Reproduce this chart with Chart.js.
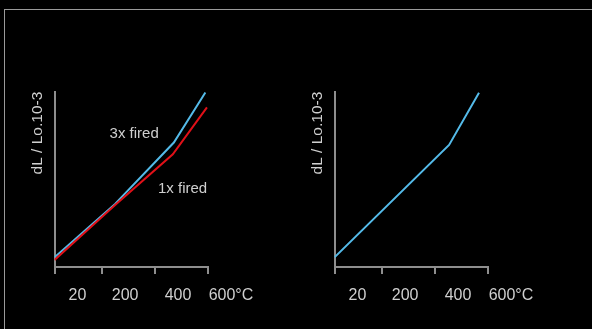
<!DOCTYPE html>
<html>
<head>
<meta charset="utf-8">
<script src="https://cdn.jsdelivr.net/npm/chart.js@4/dist/chart.umd.min.js"></script>
<style>
  html, body { margin: 0; padding: 0; background: #000; overflow: hidden; }
  body { width: 592px; height: 329px; position: relative; }
  .frame { position: absolute; left: 4px; top: 9px; width: 650px; height: 400px; border: 1px solid #9a9a9a; }
  canvas { position: absolute; top: 0; }
  #left { left: 0; }
  #right { left: 280px; }
</style>
</head>
<body>
<div class="frame"></div>
<canvas id="left" width="280" height="329"></canvas>
<canvas id="right" width="280" height="329"></canvas>
<script>
"use strict"

// temperature ticks (°C) shown under both charts
const xTicks = [20, 200, 400, 600];
const yTitle = 'dL / Lo.10-3';

// left chart: expansion after 3 firings and after 1 firing
const leftTemps3x = [20, 249, 471, 590];
const leftValues3x = [0.55, 3.6, 7.1, 9.95];
const leftTemps1x = [20, 249, 467, 596];
const leftValues1x = [0.4, 3.54, 6.43, 9.11];

// right chart: single curve
const rightTemps = [20, 453, 566];
const rightValues = [0.55, 6.96, 9.94];

// curve labels on the left chart, in data units
const noteTexts = ['3x fired', '1x fired'];
const noteTemps = [321, 504];
const noteValues = [7.57, 4.43];

const GREY = '#8e8e8e';
const TEXT = '#cfcfcf';
const BLUE = 'rgb(84, 186, 232)';
const RED = 'rgb(224, 16, 24)';
const FONT = 'Liberation Sans';

function toPoints(xs, ys) {
    return xs.map((x, i) => ({ x: x, y: ys[i] }));
}

// draws the text notes next to the curves
const notesPlugin = {
    id: 'notes',
    afterDatasetsDraw(chart, args, opts) {
        if (!opts.texts) return;
        const ctx = chart.ctx;
        ctx.save();
        ctx.fillStyle = TEXT;
        ctx.font = '15px "' + FONT + '"';
        ctx.textAlign = 'center';
        ctx.textBaseline = 'middle';
        opts.texts.forEach((t, i) => {
            ctx.fillText(t, chart.scales.x.getPixelForValue(opts.xs[i]), chart.scales.y.getPixelForValue(opts.ys[i]));
        });
        ctx.restore();
    }
};

function makeConfig(datasets, notes) {
    return {
        type: 'line',
        data: { datasets: datasets },
        plugins: [notesPlugin],
        options: {
            responsive: false,
            animation: false,
            devicePixelRatio: 1,
            layout: { padding: { top: 91.7, right: 72, bottom: 22, left: 0 } },
            plugins: {
                legend: { display: false },
                tooltip: { enabled: false },
                notes: notes
            },
            scales: {
                x: {
                    type: 'linear',
                    min: 20,
                    max: 600,
                    afterBuildTicks: (scale) => { scale.ticks = xTicks.map(v => ({ value: v })); },
                    afterFit: (scale) => { scale.height = 40; },
                    grid: { display: true, drawOnChartArea: false, drawTicks: true, tickLength: 7, color: GREY, lineWidth: 2 },
                    border: { display: true, color: GREY, width: 2 },
                    ticks: {
                        autoSkip: false,
                        maxRotation: 0,
                        minRotation: 0,
                        padding: 12.4,
                        labelOffset: 23,
                        color: TEXT,
                        font: { family: FONT, size: 16 },
                        callback: (v) => v === 600 ? '600°C' : String(v)
                    }
                },
                y: {
                    min: 0,
                    max: 10,
                    afterFit: (scale) => { scale.width = 54.5; },
                    grid: { display: false },
                    border: { display: true, color: GREY, width: 2 },
                    ticks: { display: false },
                    title: {
                        display: true,
                        text: yTitle,
                        align: 'end',
                        color: TEXT,
                        font: { family: FONT, size: 15.5 },
                        padding: { top: 28.3, bottom: 0 }
                    }
                }
            }
        }
    };
}

const lineStyle = { borderWidth: 2, pointRadius: 0, tension: 0, fill: false };

new Chart(document.getElementById('left'), makeConfig([
    Object.assign({ label: '1x fired', data: toPoints(leftTemps1x, leftValues1x), borderColor: RED }, lineStyle),
    Object.assign({ label: '3x fired', data: toPoints(leftTemps3x, leftValues3x), borderColor: BLUE }, lineStyle)
], { texts: noteTexts, xs: noteTemps, ys: noteValues }));

new Chart(document.getElementById('right'), makeConfig([
    Object.assign({ label: 'fired', data: toPoints(rightTemps, rightValues), borderColor: BLUE }, lineStyle)
], {}));
</script>
</body>
</html>
